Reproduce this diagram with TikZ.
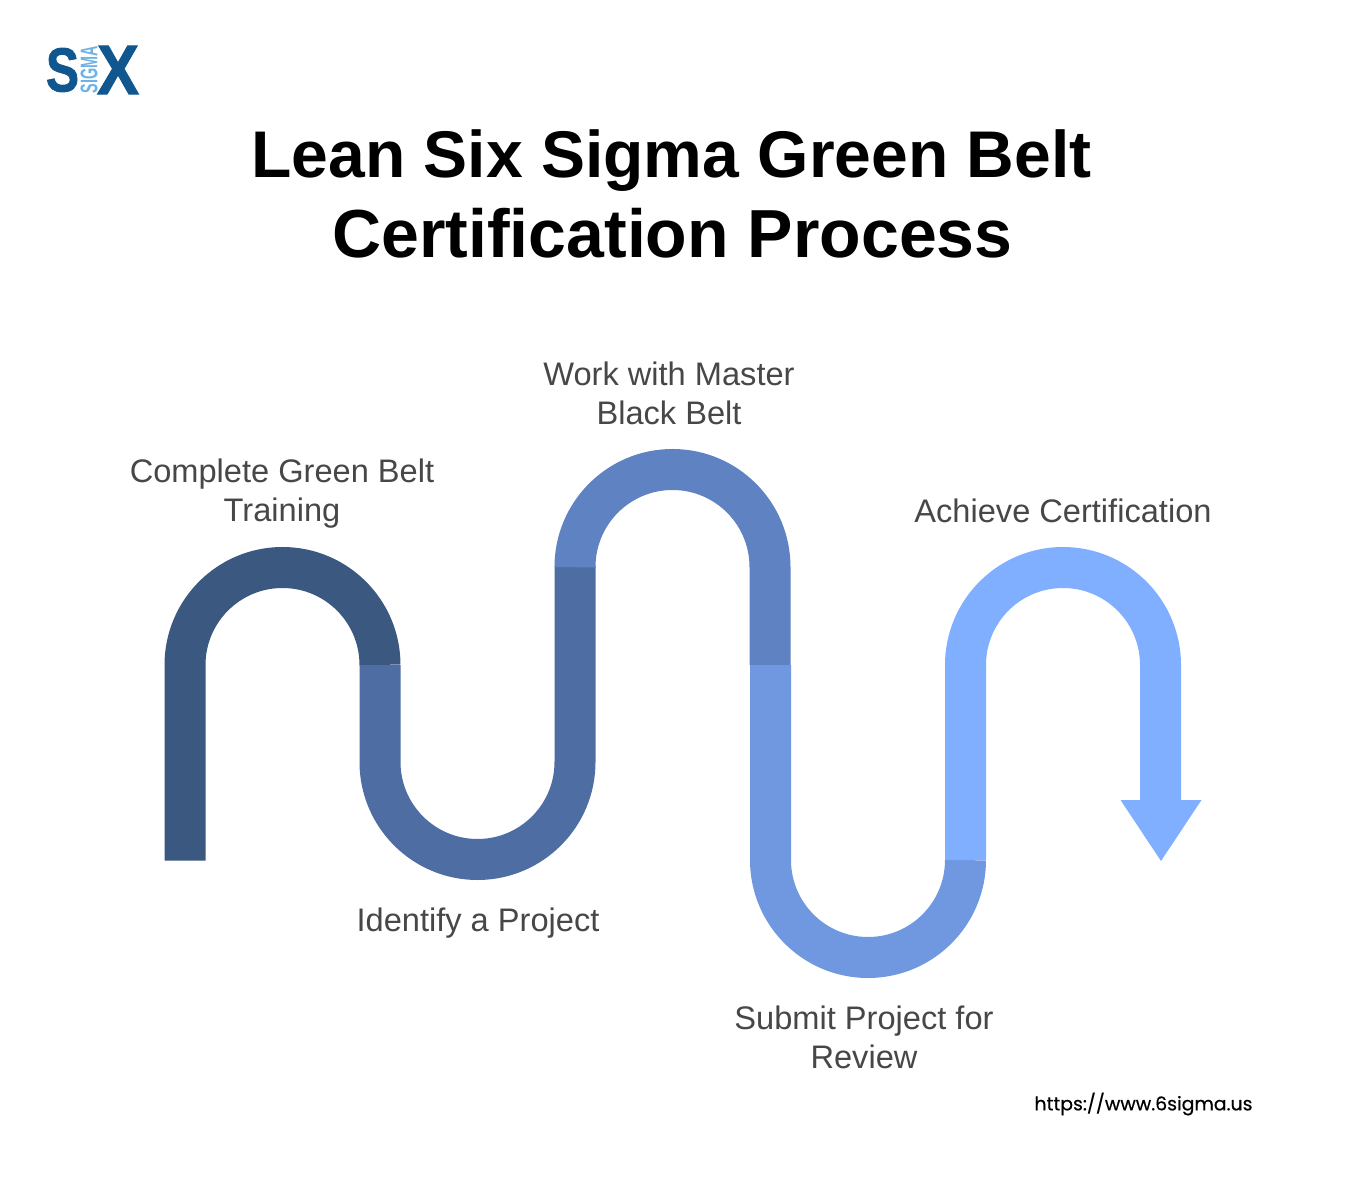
\documentclass[tikz,border=0pt]{standalone}
\usepackage{fontspec}
\setmainfont{Liberation Sans}
\newfontfamily\urlfont[FakeBold=0.5]{Poppins}
\newfontfamily\logofont[FakeBold=1.5]{Liberation Sans Bold}
\definecolor{bandA}{HTML}{3B5881}
\definecolor{bandB}{HTML}{4D6DA3}
\definecolor{bandC}{HTML}{5E82C2}
\definecolor{bandD}{HTML}{6F98E1}
\definecolor{bandE}{HTML}{80AFFF}
\definecolor{logoDark}{HTML}{11578F}
\definecolor{logoLight}{HTML}{6FB1E4}
\tikzset{
	band/.style={line width=20.5pt, line cap=butt},
	steplabel/.style={align=center, inner sep=0pt, text=black!72, font=\fontsize{16.3}{19.5}\selectfont},
	titleline/.style={inner sep=0pt, font=\fontsize{33}{39}\selectfont\bfseries},
	logoletter/.style={inner sep=0pt, text=logoDark}
}
\begin{document}
\begin{tikzpicture}[x=0.5pt, y=-0.5pt]
		%%%%% START %%%%%
		\useasboundingbox (0, 0) rectangle (1346, 1182);
		
		\node[logoletter, font=\fontsize{31}{31}\logofont\selectfont] (logoS) at (62.5, 70) {\scalebox{0.8}[1]{S}};
		\node[logoletter, font=\fontsize{35}{35}\logofont\selectfont] (logoX) at (118, 70) {\scalebox{0.9}[1]{X}};
		\node[inner sep=0pt, rotate=90, text=logoLight, font=\fontsize{12}{12}\selectfont\bfseries] (logoSigma) at (89, 70) {\scalebox{0.6}[1]{SIGMA}};
		
		\node[titleline] (titleA) at (671.5, 161) {Lean Six Sigma Green Belt};
		\node[titleline, font=\fontsize{34}{39}\selectfont\bfseries] (titleB) at (672.5, 233) {Certification Process};
		
		\draw[band, bandA] (185, 860.5) -- (185, 665) arc[start angle=180, end angle=0, radius=48.75pt];
		\draw[band, bandB] (380, 665) -- (380, 762) arc[start angle=180, end angle=360, radius=48.75pt] -- (575, 566);
		\draw[band, bandC] (575, 566) -- (575, 567) arc[start angle=180, end angle=0, radius=48.75pt] -- (770, 665);
		\draw[band, bandD] (770.5, 665) -- (770.5, 860) arc[start angle=180, end angle=360, radius=48.75pt];
		\draw[band, bandE] (965.5, 860) -- (965.5, 665) arc[start angle=180, end angle=0, radius=48.75pt] -- (1160.5, 801);
		\fill[bandE] (1120.5, 800) -- (1201.5, 800) -- (1161, 861) -- cycle;
		
		\node[steplabel] (stepA) at (282, 494) {Complete Green Belt\\Training};
		\node[steplabel] (stepB) at (478, 923) {Identify a Project};
		\node[steplabel] (stepC) at (669, 393) {Work with Master\\Black Belt};
		\node[steplabel] (stepD) at (864, 1037) {Submit Project for\\Review};
		\node[steplabel] (stepE) at (1063, 510.5) {Achieve Certification};
		
		\node[inner sep=0pt, font=\fontsize{9.43}{12}\urlfont\selectfont] (siteurl) at (1143.5, 1104) {https://www.6sigma.us};
		%%%%% END %%%%%
	\end{tikzpicture}
\end{document}
